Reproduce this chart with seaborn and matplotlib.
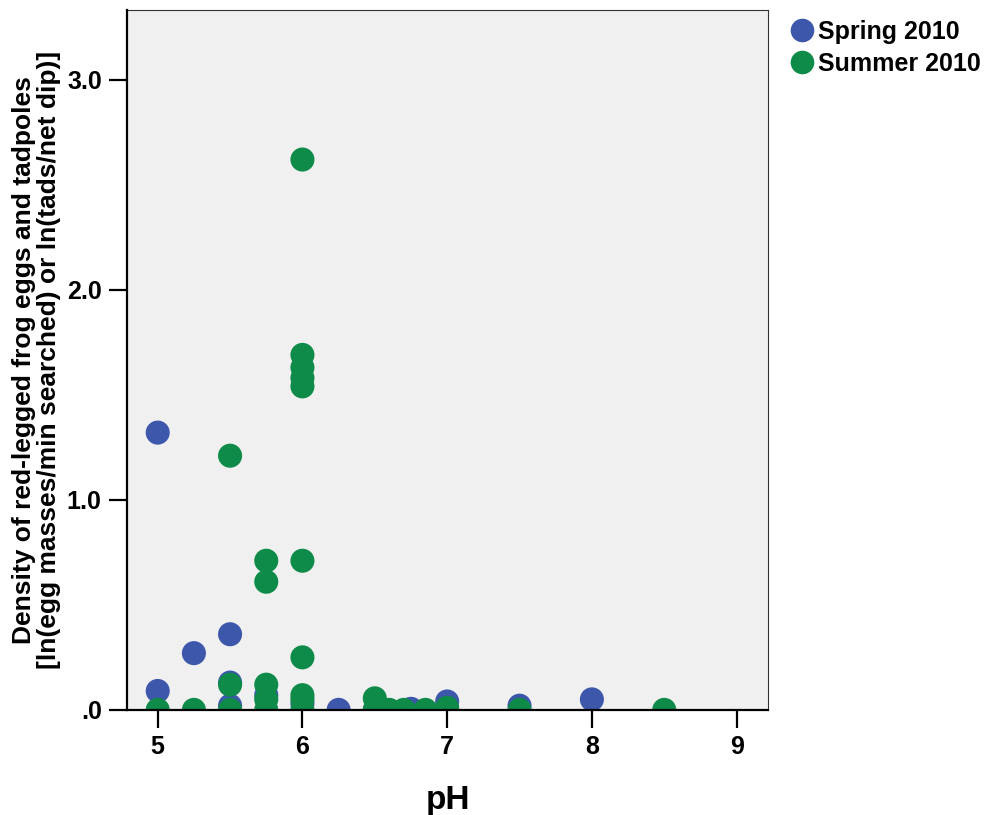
import matplotlib
matplotlib.use("Agg")
import matplotlib.pyplot as plt
import seaborn as sns
import pandas as pd
from matplotlib.lines import Line2D

spring_ph = [5.0, 5.0, 5.25, 5.5, 5.5, 5.5, 5.75, 6.0, 6.25, 6.5, 6.75, 7.0, 7.5, 8.0]
spring_density = [1.32, 0.09, 0.27, 0.36, 0.13, 0.02, 0.07, 0.03, 0.0, 0.0, 0.005, 0.04, 0.02, 0.05]

summer_ph = [5.0, 5.25, 5.5, 5.5, 5.5, 5.75, 5.75, 5.75, 5.75, 5.75,
             6.0, 6.0, 6.0, 6.0, 6.0, 6.0, 6.0, 6.0, 6.0, 6.0,
             6.5, 6.5, 6.6, 6.7, 6.85, 7.0, 7.5, 8.5]
summer_density = [0.0, 0.0, 1.21, 0.12, 0.0, 0.71, 0.61, 0.12, 0.05, 0.0,
                  2.62, 1.69, 1.63, 1.58, 1.54, 0.71, 0.25, 0.07, 0.05, 0.0,
                  0.055, 0.0, 0.0, 0.0, 0.0, 0.01, 0.0, 0.0]

season_labels = ["Spring 2010", "Summer 2010"]
season_colors = ["#3d57ab", "#0e8b48"]
x_ticks = [5, 6, 7, 8, 9]
y_ticks = [0, 1, 2, 3]
y_tick_labels = [".0", "1.0", "2.0", "3.0"]

df = pd.DataFrame({
    "pH": spring_ph + summer_ph,
    "density": spring_density + summer_density,
    "season": [season_labels[0]] * len(spring_ph) + [season_labels[1]] * len(summer_ph),
})

sns.set_theme(style="ticks")
plt.rcParams["font.family"] = ["Liberation Sans", "DejaVu Sans"]
plt.rcParams["font.weight"] = "bold"
plt.rcParams["text.color"] = "black"
plt.rcParams["axes.labelcolor"] = "black"
plt.rcParams["xtick.color"] = "black"
plt.rcParams["ytick.color"] = "black"

fig = plt.figure(figsize=(9.98, 8.15), dpi=100)
ax = fig.add_axes([0.127, 0.129, 0.643, 0.859])
ax.set_facecolor("#f0f0f0")

sns.scatterplot(data=df, x="pH", y="density", hue="season",
                hue_order=season_labels, palette=season_colors,
                s=300, linewidth=0, alpha=1, ax=ax, legend=False, zorder=3)
for coll in ax.collections:
    coll.set_clip_on(True)

ax.set_xlim(4.786, 9.22)
ax.set_ylim(0, 3.333)
ax.set_xticks(x_ticks)
ax.set_xticklabels([str(t) for t in x_ticks], fontsize=18, fontweight="bold")
ax.set_yticks(y_ticks)
ax.set_yticklabels(y_tick_labels, fontsize=18, fontweight="bold")
ax.tick_params(axis="both", direction="out", length=13, width=1.6, color="black", pad=5)

for side in ["top", "right"]:
    ax.spines[side].set_linewidth(0.8)
    ax.spines[side].set_color("#333333")
for side in ["left", "bottom"]:
    ax.spines[side].set_linewidth(1.6)
    ax.spines[side].set_color("black")
    ax.spines[side].set_zorder(4)

ax.set_xlabel("pH", fontsize=24, fontweight="bold", labelpad=19)
ax.set_ylabel("Density of red-legged frog eggs and tadpoles\n[ln(egg masses/min searched) or ln(tads/net dip)]",
              fontsize=19, fontweight="bold", labelpad=4, linespacing=1.05)

handles = [Line2D([0], [0], marker="o", linestyle="", markersize=17,
                  markerfacecolor=c, markeredgewidth=0) for c in season_colors]
fig.legend(handles, season_labels, loc="upper left", bbox_to_anchor=(0.781, 0.988),
           frameon=False, prop={"size": 18, "weight": "bold"},
           handletextpad=0.15, handlelength=1.0, labelspacing=0.32, borderaxespad=0)

fig.savefig("out.png", dpi=100)
